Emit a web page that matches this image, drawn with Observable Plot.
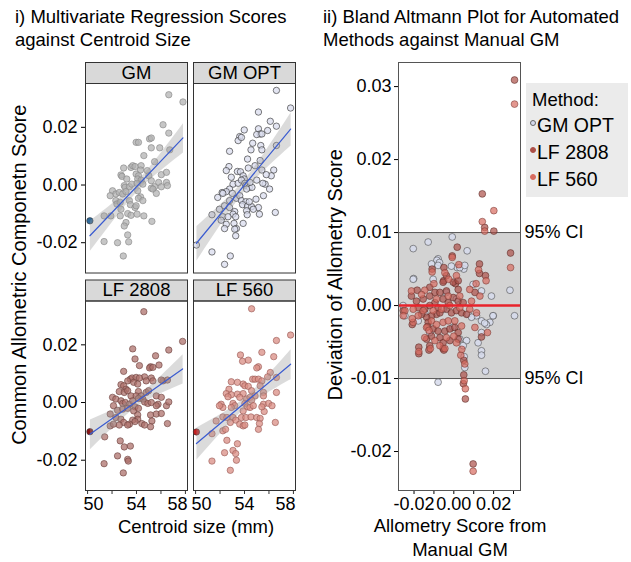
<!DOCTYPE html>
<html><head><meta charset="utf-8">
<script src="https://cdn.jsdelivr.net/npm/d3@7"></script>
<script src="https://cdn.jsdelivr.net/npm/@observablehq/plot@0.6"></script>
<style>
body{margin:0;background:#fff;font-family:"Liberation Sans",Arial,sans-serif;}
#wrap{position:relative;width:631px;height:562px;overflow:hidden;background:#fff;}
.t{position:absolute;white-space:nowrap;color:#000;font-size:18.5px;line-height:23.5px;}
.c{text-align:center;}
#wrap svg{position:absolute;overflow:visible;}
.leg{position:absolute;background:#ebebeb;}
.li{position:absolute;left:6px;font-size:18.5px;line-height:22px;white-space:nowrap;}
.dot{position:absolute;width:6px;height:6px;border-radius:50%;box-sizing:border-box;}
</style></head><body><div id="wrap"></div>
<script>
// ---------- data ----------
const leftTitle = ["i) Multivariate Regression Scores", "against Centroid Size"];
const rightTitle = ["ii) Bland Altmann Plot for Automated", "Methods against Manual GM"];
const leftYLabel = "Common Allometric Componetn Score";
const leftXLabel = "Centroid size (mm)";
const rightYLabel = "Deviation of Allometry Score";
const rightXLabel = ["Allometry Score from", "Manual GM"];
const methods = ["GM", "GM OPT", "LF 2808", "LF 560"];
const legendTitle = "Method:";
const baMethods = ["GM OPT", "LF 2808", "LF 560"];
const ciBounds = [-0.01, 0.01];
const ciLabel = "95% CI";
const meanDiff = 0;
const xTicksLeft = [50, 52, 54, 56, 58];
const xLabeledLeft = [50, 54, 58];
const yTicksLeft = [-0.02, 0, 0.02];
const xTicksRight = [-0.02, -0.01, 0, 0.01, 0.02, 0.03];
const xLabeledRight = [-0.02, 0, 0.02];
const yTicksRight = [-0.02, -0.01, 0, 0.01, 0.02, 0.03];

// highlighted specimen per facet (null = none)
const highlight = [[50.19, -0.0124], null, [50.19, -0.0101], [50.07, -0.0102]];

const gmScores = [
[56.64,0.0313],[57.80,0.0288],[56.17,0.0209],[56.64,0.0180],
[53.97,0.0148],[54.16,0.0148],[55.07,0.0160],[55.21,0.0163],
[54.60,0.0102],[55.21,0.0129],[55.90,0.0129],[56.72,0.0122],
[55.48,0.0081],[53.55,0.0061],[52.95,0.0059],[53.69,0.0067],[53.88,0.0064],[54.38,0.0067],[54.33,0.0052],
[52.73,0.0035],[52.81,0.0030],[53.20,0.0021],[53.97,0.0038],[54.16,0.0032],
[56.03,0.0036],[56.45,0.0044],[54.88,0.0050],[55.01,0.0032],
[53.00,-0.0002],[53.06,-0.0008],[53.42,-0.0006],[53.61,0.0003],
[54.10,0.0021],[54.38,0.0017],[54.52,0.0003],[54.05,0.0006],
[52.04,-0.0020],[52.31,-0.0031],[51.85,-0.0037],
[52.59,-0.0026],[52.87,-0.0031],[53.14,-0.0023],
[55.21,0.0015],[55.81,0.0009],[55.48,-0.0006],
[55.21,-0.0011],[55.34,-0.0014],[56.03,-0.0006],[56.45,0.0009],[56.53,-0.0002],
[54.10,-0.0020],[54.33,-0.0041],[54.16,-0.0046],
[55.62,-0.0029],
[53.42,-0.0054],[53.50,-0.0068],[53.88,-0.0078],[53.97,-0.0072],[54.52,-0.0054],
[52.31,-0.0054],[52.40,-0.0066],[52.67,-0.0060],[52.73,-0.0084],
[51.35,-0.0107],[51.90,-0.0107],[52.67,-0.0107],
[53.28,-0.0099],[53.55,-0.0105],[54.05,-0.0101],[54.60,-0.0107],
[53.14,-0.0130],[53.00,-0.0142],[55.26,-0.0126],
[53.28,-0.0173],[51.35,-0.0196],[52.45,-0.0200],[53.36,-0.0197],
[52.92,-0.0246]];

const gmOptScores = [
[50.07,-0.0208],[56.61,0.0328],[57.77,0.0267],
[55.14,0.0253],[56.11,0.0221],[56.61,0.0204],
[53.98,0.0191],[53.61,0.0168],[53.48,0.0154],[53.75,0.0165],
[55.14,0.0195],[55.28,0.0177],[55.00,0.0175],[55.42,0.0177],
[54.67,0.0145],[54.53,0.0122],[55.33,0.0137],[55.42,0.0122],
[52.78,0.0117],[55.89,0.0189],
[54.25,0.0090],[55.28,0.0085],[56.61,0.0137],
[52.73,0.0064],[52.51,0.0050],[52.92,0.0027],[53.42,0.0047],
[53.67,0.0046],[53.89,0.0032],[53.98,0.0021],[54.31,0.0059],
[54.86,0.0067],[55.42,0.0052],[56.39,0.0052],[56.19,0.0032],
[55.00,0.0017],[55.78,0.0036],[55.69,0.0003],
[53.06,0.0003],[52.78,-0.0014],[52.51,-0.0023],
[53.48,0.0006],[53.75,0.0017],[54.03,0.0006],[54.11,-0.0002],
[54.39,-0.0008],[54.61,-0.0008],[54.45,0.0009],[54.17,-0.0014],
[52.17,-0.0026],[51.81,-0.0043],[52.23,-0.0029],
[53.01,-0.0029],[53.34,-0.0046],[52.78,-0.0054],
[53.61,-0.0037],[53.75,-0.0054],[54.11,-0.0058],
[56.05,-0.0014],[55.55,-0.0037],[54.94,-0.0049],
[55.50,0.0006],
[51.95,-0.0084],[52.37,-0.0072],[52.78,-0.0078],
[53.84,-0.0068],[54.25,-0.0073],[54.58,-0.0075],[54.39,-0.0058],[55.14,-0.0078],
[53.20,-0.0092],[53.06,-0.0101],[54.17,-0.0089],[54.72,-0.0084],
[51.34,-0.0103],[52.23,-0.0110],[52.09,-0.0122],[52.65,-0.0110],
[53.28,-0.0110],[54.22,-0.0103],[55.22,-0.0101],[56.52,-0.0095],
[52.51,-0.0136],[52.37,-0.0151],[53.14,-0.0133],[53.89,-0.0133],
[53.34,-0.0151],[53.20,-0.0153],[53.28,-0.0176],
[51.34,-0.0232],[52.37,-0.0275],[52.84,-0.0246]];

const lf2808Scores = [
[54.60,0.0315],[57.77,0.0212],
[53.69,0.0186],[56.64,0.0182],
[53.88,0.0151],[55.56,0.0162],[54.24,0.0128],
[55.15,0.0124],[55.07,0.0120],[55.34,0.0122],[55.84,0.0130],
[52.95,0.0108],[54.66,0.0089],[55.21,0.0085],
[53.50,0.0081],[53.64,0.0085],[53.97,0.0087],[53.28,0.0075],[54.24,0.0085],
[52.73,0.0062],[52.95,0.0058],[53.14,0.0046],[53.77,0.0070],[54.10,0.0064],
[54.79,0.0075],[55.34,0.0075],[56.17,0.0075],[56.03,0.0078],[56.53,0.0078],
[52.04,0.0018],[52.31,0.0012],[52.12,-0.0011],
[52.59,0.0038],[53.00,0.0035],[53.28,0.0041],[54.16,0.0038],
[53.55,0.0023],[53.97,0.0023],[54.38,0.0023],[54.79,0.0035],[54.99,0.0041],
[52.73,0.0006],[52.87,-0.0003],[53.09,0.0000],[53.42,-0.0006],[53.69,0.0006],[53.88,-0.0015],
[54.16,0.0014],[54.52,0.0012],[54.66,0.0002],[54.93,-0.0003],[55.21,0.0000],
[55.62,0.0023],[56.03,0.0018],[55.76,-0.0006],[55.62,-0.0011],[56.45,-0.0011],[56.64,0.0002],
[52.45,-0.0027],[52.87,-0.0023],[53.28,-0.0020],[53.77,-0.0029],[54.16,-0.0020],
[51.85,-0.0040],[52.31,-0.0052],[52.73,-0.0058],[52.95,-0.0069],
[54.10,-0.0043],[54.10,-0.0058],[53.69,-0.0061],[53.88,-0.0066],[53.42,-0.0075],[53.28,-0.0078],
[51.85,-0.0081],[52.12,-0.0075],[52.59,-0.0078],[54.44,-0.0073],[54.66,-0.0078],
[55.15,-0.0043],[55.62,-0.0040],[56.03,-0.0038],[55.26,-0.0064],[55.15,-0.0084],[56.53,-0.0073],
[51.40,-0.0119],[52.67,-0.0133],[53.00,-0.0154],[53.50,-0.0151],
[52.45,-0.0185],[53.28,-0.0197],[53.33,-0.0203],[51.35,-0.0212],[52.92,-0.0244]];

const lf560Scores = [
[54.58,0.0325],[57.77,0.0234],[56.61,0.0215],
[55.42,0.0174],[56.39,0.0159],[53.67,0.0165],[53.84,0.0143],[54.31,0.0147],
[55.14,0.0124],[55.00,0.0120],[56.11,0.0104],
[54.67,0.0081],[54.86,0.0081],[55.14,0.0081],[55.42,0.0075],[55.89,0.0089],[56.61,0.0087],
[52.92,0.0072],[53.42,0.0070],[53.89,0.0064],[54.03,0.0058],[54.31,0.0056],
[52.73,0.0046],[52.51,0.0031],[52.92,0.0027],[52.65,0.0020],
[53.42,0.0029],[53.89,0.0031],[53.61,0.0018],[54.58,0.0041],[55.28,0.0058],
[54.86,0.0023],[54.17,0.0012],[54.45,0.0018],[54.58,0.0008],
[55.55,0.0035],[55.55,0.0023],[56.61,0.0035],
[52.09,-0.0006],[52.23,-0.0017],[51.95,-0.0011],[53.06,-0.0003],[53.20,-0.0011],[52.92,-0.0017],
[54.03,-0.0003],[54.22,-0.0015],[54.45,-0.0017],[53.89,-0.0029],[54.72,-0.0011],
[55.55,-0.0006],[55.97,-0.0003],[56.25,-0.0011],[55.61,-0.0031],[55.42,-0.0015],
[51.68,-0.0064],[52.23,-0.0050],[52.56,-0.0052],[53.06,-0.0052],[53.28,-0.0061],
[53.75,-0.0052],[54.11,-0.0052],[54.53,-0.0050],[55.00,-0.0052],[53.61,-0.0075],[53.89,-0.0081],[54.03,-0.0078],[52.84,-0.0069],
[55.28,-0.0055],[55.22,-0.0073],[56.52,-0.0069],[55.14,-0.0093],
[51.34,-0.0108],[52.23,-0.0098],[52.45,-0.0093],
[52.56,-0.0131],[53.42,-0.0143],[52.37,-0.0174],[53.06,-0.0166],[53.28,-0.0177],
[51.34,-0.0203],[53.34,-0.0200],[52.84,-0.0235]];

// Bland-Altmann: [GM score, deviation]
const baGmOpt = [
[-0.0008,0.0094],[-0.0129,0.0087],[-0.0204,0.0078],[0.0067,0.0075],[-0.0079,0.0064],[-0.0085,0.0062],[-0.0072,0.0059],
[-0.0202,0.0037],[0.0050,0.0050],[0.0017,0.0052],[0.0282,0.0021],
[-0.0112,0.0057],[-0.0079,0.0055],[-0.0012,0.0054],[0.0030,0.0052],[0.0055,0.0055],[-0.0104,0.0036],[-0.0204,0.0036],
[0.0097,0.0029],[0.0139,0.0020],[0.0189,0.0013],[-0.0255,0.0000],[-0.0246,-0.0014],[0.0072,-0.0012],[0.0114,-0.0014],
[0.0198,-0.0014],[0.0139,-0.0021],[0.0181,-0.0023],[0.0164,-0.0026],[0.0139,-0.0037],[0.0030,-0.0046],[0.0064,-0.0048],
[0.0122,-0.0051],[0.0047,-0.0055],[-0.0179,-0.0021],[-0.0121,-0.0037],[-0.0005,-0.0030],
[-0.0079,-0.0105],[0.0159,-0.0090],[0.0139,-0.0062],[0.0139,-0.0068],[0.0155,-0.0024],[0.0197,-0.0014],[0.0305,-0.0014],
[0.0055,-0.0085],[0.0052,-0.0070],
[-0.0054,-0.0005],[0.0013,0.0009],[-0.0146,-0.0010],[-0.0037,0.0018],[0.0089,-0.0016]];

const baLf2808 = [
[0.0305,0.0309],[0.0143,0.0153],[0.0155,0.0107],[0.0201,0.0102],[0.0285,0.0072],[0.0017,0.0080],[-0.0008,0.0068],
[0.0129,0.0057],[0.0129,0.0044],[-0.0109,0.0050],[-0.0051,0.0034],[0.0008,0.0030],[0.0159,0.0041],[-0.0184,0.0021],
[-0.0050,0.0052],[-0.0037,0.0041],[-0.0003,0.0032],[0.0022,0.0034],[-0.0054,0.0032],[-0.0121,0.0025],[-0.0095,0.0018],
[-0.0121,0.0013],[-0.0070,0.0018],[-0.0037,0.0020],[0.0022,0.0022],[0.0106,0.0018],[-0.0213,0.0013],[-0.0188,0.0006],
[-0.0154,0.0009],[-0.0095,0.0004],[-0.0054,0.0009],[-0.0028,0.0004],[-0.0003,0.0011],[0.0022,0.0006],[0.0047,0.0004],
[-0.0179,-0.0003],[-0.0146,-0.0005],[-0.0121,0.0000],[-0.0079,-0.0003],[-0.0037,-0.0005],[-0.0012,-0.0010],[0.0013,-0.0007],
[0.0039,-0.0010],[0.0064,-0.0012],[-0.0087,-0.0012],[-0.0070,-0.0010],[-0.0112,-0.0014],[-0.0137,-0.0016],[-0.0162,-0.0012],
[-0.0129,-0.0023],[-0.0104,-0.0032],[-0.0079,-0.0035],[-0.0045,-0.0035],[-0.0020,-0.0032],[0.0005,-0.0030],[0.0022,-0.0037],
[-0.0070,-0.0044],[-0.0054,-0.0051],[-0.0020,-0.0048],[0.0022,-0.0046],[-0.0137,-0.0046],[-0.0112,-0.0042],[-0.0054,-0.0059],
[-0.0121,-0.0055],
[0.0050,-0.0095],[0.0048,-0.0107],[0.0058,-0.0128],[0.0097,-0.0217],[0.0139,-0.0043],[0.0050,-0.0075],[-0.0254,-0.0007],
[-0.0209,-0.0026],[-0.0132,-0.0029],[-0.0176,-0.0057],[-0.0176,-0.0066],[-0.0125,-0.0061],[-0.0050,-0.0061]];

const baLf560 = [
[0.0305,0.0276],[0.0201,0.0130],[0.0143,0.0115],[0.0155,0.0102],[0.0285,0.0052],[-0.0008,0.0066],[0.0025,0.0056],
[0.0124,0.0049],[-0.0109,0.0046],[-0.0026,0.0036],[0.0162,0.0034],[0.0112,0.0030],[-0.0146,0.0021],
[-0.0045,0.0045],[0.0013,0.0041],[-0.0100,0.0030],[0.0080,0.0022],[0.0131,0.0013],[-0.0213,0.0020],[-0.0162,0.0015],
[-0.0087,0.0009],[-0.0028,0.0013],[0.0030,0.0013],[0.0089,0.0006],[-0.0204,-0.0005],[-0.0154,-0.0007],[-0.0104,-0.0007],
[-0.0062,-0.0005],[-0.0020,0.0000],[0.0030,-0.0003],[0.0080,-0.0005],[0.0114,-0.0010],[-0.0246,-0.0007],[-0.0204,-0.0023],
[-0.0179,-0.0014],[-0.0137,-0.0030],[-0.0112,-0.0021],[-0.0087,-0.0026],[-0.0054,-0.0023],[-0.0028,-0.0021],[0.0005,-0.0021],
[0.0039,-0.0028],[0.0106,-0.0030],[-0.0095,-0.0048],[-0.0037,-0.0044],[0.0000,-0.0042],[-0.0146,-0.0044],[-0.0070,-0.0055],
[0.0013,-0.0051],
[0.0052,-0.0103],[0.0058,-0.0114],[0.0097,-0.0227],[0.0169,-0.0037],[0.0055,-0.0080],[-0.0254,-0.0014],[-0.0209,-0.0018],
[-0.0125,-0.0034],[-0.0176,-0.0063],[-0.0118,-0.0059],[-0.0045,-0.0059],[0.0035,-0.0068],[0.0040,-0.0060]];

// ---------- styles ----------
const FONT = "Liberation Sans, Arial, sans-serif";
const leftFill = {"GM": "#b3b3b3", "GM OPT": "#d9dcee", "LF 2808": "#ad726c", "LF 560": "#d98d84"};
const leftStroke = {"GM": "#888888", "GM OPT": "#333333", "LF 2808": "#6e4340", "LF 560": "#9a5c56"};
const hlFill = ["#2f6a9b", null, "#8a1414", "#c41f1f"];
const baFill = {"GM OPT": "#d6daec", "LF 2808": "#ad5048", "LF 560": "#d76b5f"};
const baStroke = {"GM OPT": "#444", "LF 2808": "#5a2a26", "LF 560": "#7a3a34"};
// inward nudge of edge tick labels, as in the reference
const xLabelNudge = {50: 6, 54: 0, 58: -8};

// ---------- tables ----------
const scoreSets = [gmScores, gmOptScores, lf2808Scores, lf560Scores];
const leftData = [];
scoreSets.forEach((arr, i) => {
  const base = {method: methods[i], col: i % 2, row: Math.floor(i / 2)};
  if (highlight[i]) leftData.push({...base, x: highlight[i][0], y: highlight[i][1], hl: hlFill[i]});
  arr.forEach(([x, y]) => leftData.push({...base, x, y, hl: null}));
});
const baData = [];
[baGmOpt, baLf2808, baLf560].forEach((arr, i) => arr.forEach(([x, y]) => baData.push({method: baMethods[i], x, y})));

const wrap = document.getElementById("wrap");
function addText(lines, left, top, cls, extra) {
  const d = document.createElement("div");
  d.className = "t " + (cls || "");
  d.innerHTML = lines.map(s => s.replace(/&/g, "&amp;")).join("<br>");
  d.style.left = left + "px"; d.style.top = top + "px";
  if (extra) Object.assign(d.style, extra);
  wrap.appendChild(d);
  return d;
}

// ---------- left faceted plot ----------
const BW = 189.5;
const hasAxisMarks = typeof Plot.axisX === "function";
const xAxisMarks = hasAxisMarks ? [
  Plot.axisX(xTicksLeft, {tickFormat: () => "", tickSize: 4, label: null, stroke: "#333"}),
  ...xLabeledLeft.map(v => Plot.axisX([v], {tickSize: 0, tickPadding: 7, dx: xLabelNudge[v], tickFormat: d => String(d), label: null, fontSize: 18}))
] : [];
const left = Plot.plot({
  width: 310, height: 470,
  marginLeft: 85, marginRight: 15, marginTop: 28, marginBottom: 35,
  style: {fontFamily: FONT, fontSize: "18px", color: "#000", background: "transparent", overflow: "visible"},
  facet: {data: leftData, x: "col", y: "row"},
  fx: {domain: [0, 1], paddingInner: 0.0556, paddingOuter: 0, round: false, axis: null, label: null},
  fy: {domain: [0, 1], paddingInner: 0.1287, paddingOuter: 0, round: false, axis: null, label: null},
  x: {domain: [49.83, 58.17], ticks: xTicksLeft, tickFormat: d => xLabeledLeft.includes(d) ? String(d) : "", tickSize: 4, tickPadding: 3, label: null},
  y: {domain: [-0.0305, 0.0352], ticks: yTicksLeft, tickFormat: d => d.toFixed(2), tickSize: 4, tickPadding: 4, label: null},
  marks: [
    Plot.frame({fill: "#d9d9d9", stroke: "#333", strokeWidth: 1, insetTop: -21, insetBottom: BW}),
    Plot.frame({stroke: "#333", strokeWidth: 1}),
    ...methods.map(m => Plot.dot(leftData, {filter: d => d.method === m && !d.hl, x: "x", y: "y", r: 3.2,
      fill: leftFill[m], fillOpacity: 0.75, stroke: leftStroke[m], strokeWidth: 0.8, strokeOpacity: 0.8})),
    Plot.dot(leftData, {filter: d => d.hl, x: "x", y: "y", r: 3.2, fill: d => d.hl, stroke: "#333", strokeWidth: 0.6}),
    Plot.linearRegressionY(leftData, {x: "x", y: "y", stroke: "#3a5bd0", strokeWidth: 1.2, fill: "#999", fillOpacity: 0.35, ci: 0.95}),
    Plot.text(leftData, Plot.selectFirst({text: "method", frameAnchor: "top", lineAnchor: "middle", dy: -10.5, fontSize: 18.5, fill: "#000"})),
    ...xAxisMarks
  ],
  color: {type: "identity"}
});
left.style.left = "0px"; left.style.top = "55px";
wrap.appendChild(left);

// ---------- right Bland-Altmann plot ----------
const right = Plot.plot({
  width: 311, height: 470,
  marginLeft: 78, marginRight: 111, marginTop: 7, marginBottom: 35,
  style: {fontFamily: FONT, fontSize: "18px", color: "#000", background: "transparent", overflow: "visible"},
  x: {domain: [-0.0278, 0.0335], ticks: xTicksRight, tickFormat: d => xLabeledRight.some(v => Math.abs(v - d) < 1e-9) ? d.toFixed(2) : "", tickSize: 4, tickPadding: 3, label: null},
  y: {domain: [-0.02534, 0.0333], ticks: yTicksRight, tickFormat: d => d.toFixed(2), tickSize: 4, tickPadding: 3, label: null},
  marks: [
    Plot.rect([ciBounds], {y1: d => d[0], y2: d => d[1], fill: "#d3d3d3"}),
    Plot.ruleY(ciBounds, {stroke: "#555", strokeWidth: 1}),
    ...baMethods.map(m => Plot.dot(baData, {filter: d => d.method === m, x: "x", y: "y", r: 3.4,
      fill: baFill[m], fillOpacity: m === "GM OPT" ? 0.85 : 0.7, stroke: baStroke[m], strokeWidth: 0.8, strokeOpacity: 0.7})),
    Plot.ruleY([meanDiff], {stroke: "#e8232b", strokeWidth: 2.6}),
    Plot.frame({stroke: "#555", strokeWidth: 1}),
    Plot.text(ciBounds, {y: d => d, text: () => ciLabel, frameAnchor: "right", textAnchor: "start", dx: 4, fontSize: 18, fill: "#000"})
  ]
});
right.style.left = "320px"; right.style.top = "55px";
wrap.appendChild(right);

// ---------- texts ----------
addText(leftTitle, 15, 4.5);
addText(rightTitle, 323, 4.5);
addText([leftXLabel], 196 - 150, 515, "c", {width: "300px"});
addText(rightXLabel, 460 - 150, 514, "c", {width: "300px"});
addText([leftYLabel], 20 - 200, 275 - 11.75, "c", {width: "400px", fontSize: "20px", transform: "rotate(-90deg)"});
addText([rightYLabel], 336 - 200, 275 - 11.75, "c", {width: "400px", fontSize: "20px", transform: "rotate(-90deg)"});

// ---------- legend ----------
const leg = document.createElement("div");
leg.className = "leg";
Object.assign(leg.style, {left: "526px", top: "83px", width: "102px", height: "114px"});
const legRows = [legendTitle, ...baMethods];
const legTops = [6, 31, 58, 85];
legRows.forEach((s, i) => {
  const r = document.createElement("div");
  r.className = "li"; r.textContent = s;
  r.style.top = legTops[i] + "px";
  r.style.left = (i === 0 ? 6 : 11) + "px";
  if (i > 0) r.style.fontSize = "19.5px";
  leg.appendChild(r);
  if (i > 0) {
    const m = baMethods[i - 1];
    const dot = document.createElement("div");
    dot.className = "dot";
    Object.assign(dot.style, {left: "4px", top: (legTops[i] + 6) + "px", background: baFill[m], border: "0.8px solid " + (m === "GM OPT" ? "#666" : baFill[m])});
    leg.appendChild(dot);
  }
});
wrap.appendChild(leg);
</script></body></html>
